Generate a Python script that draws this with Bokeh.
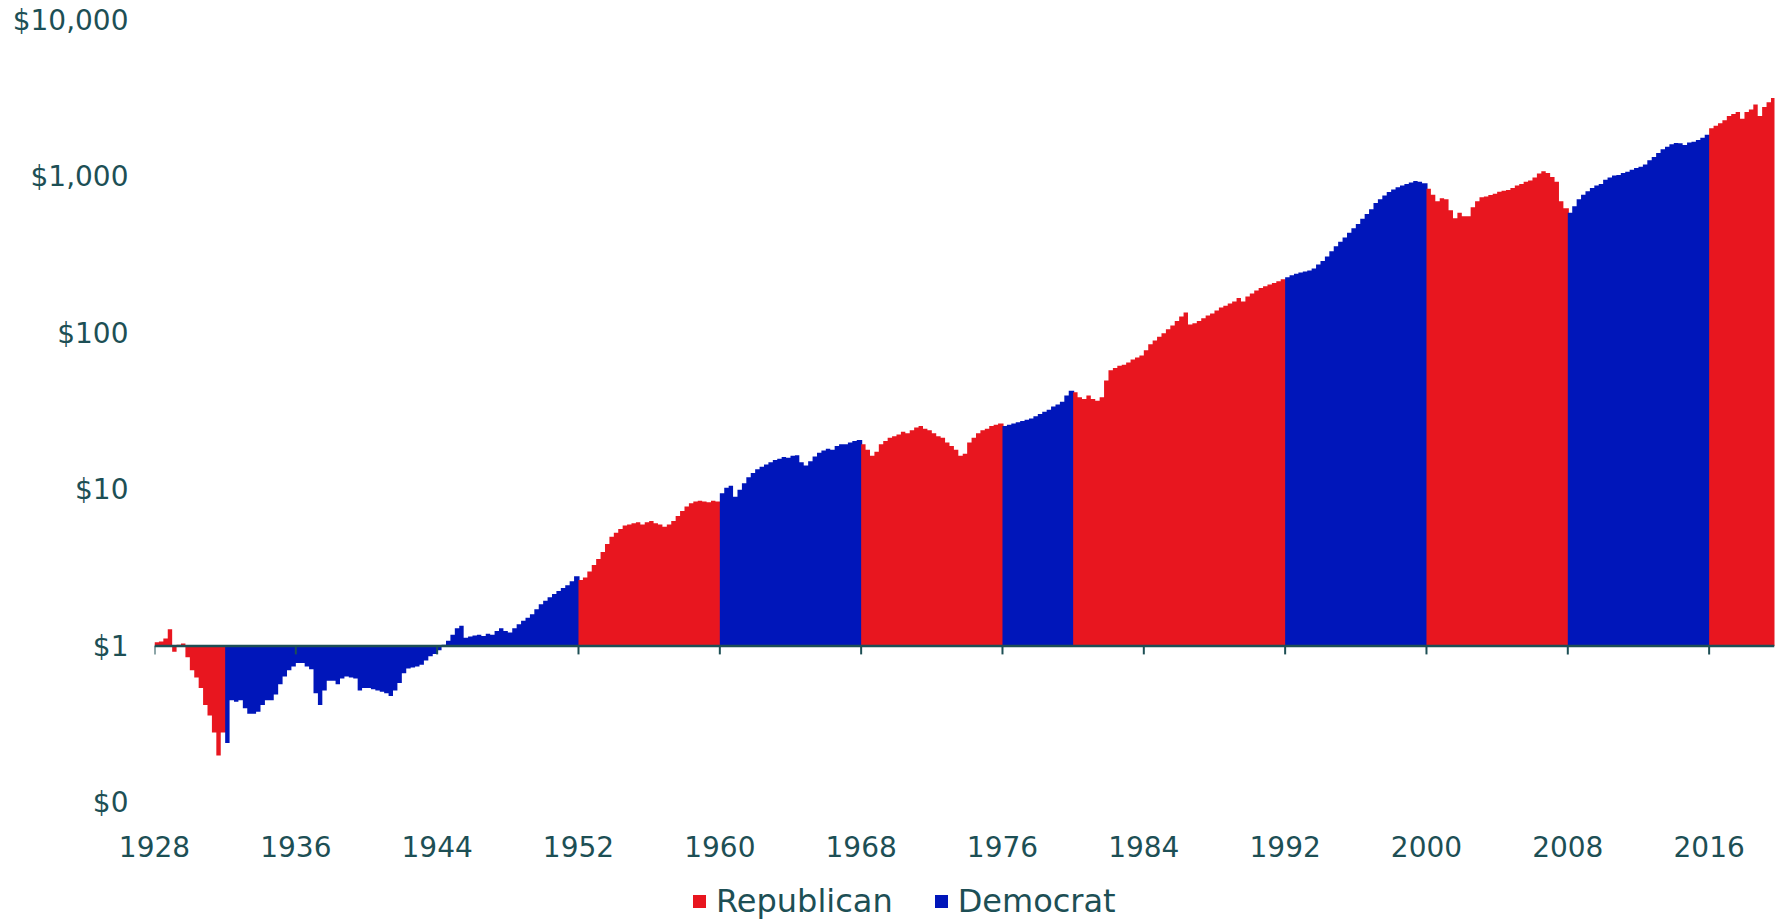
from bokeh.plotting import figure
from bokeh.layouts import column
from bokeh.models import Span, Legend, LegendItem, FixedTicker, Range1d
from bokeh.embed import file_html
from bokeh.resources import INLINE

# ---------------- data (growth of $1, quarterly) ----------------
TERM_STARTS = [1928, 1932, 1952, 1960, 1968, 1976, 1980, 1992, 2000, 2008, 2016]
TERM_PARTY = ["Republican", "Democrat", "Republican", "Democrat", "Republican", "Democrat",
              "Republican", "Democrat", "Republican", "Democrat", "Republican"]

term_1928 = [1.06, 1.07, 1.12, 1.28, 0.92, 1.02, 1.04, 0.85, 0.70, 0.63, 0.54, 0.42,
             0.36, 0.28, 0.20, 0.28]
term_1932 = [0.24, 0.45, 0.44, 0.45, 0.40, 0.37, 0.37, 0.38, 0.42, 0.45, 0.45, 0.49,
             0.57, 0.64, 0.70, 0.74, 0.78, 0.78, 0.74, 0.71, 0.50, 0.42, 0.52, 0.60,
             0.60, 0.57, 0.62, 0.64, 0.63, 0.62, 0.52, 0.54, 0.54, 0.53, 0.52, 0.51,
             0.50, 0.48, 0.52, 0.58, 0.67, 0.72, 0.73, 0.74, 0.76, 0.81, 0.86, 0.89,
             0.94, 1.02, 1.08, 1.18, 1.30, 1.35, 1.13, 1.15, 1.17, 1.18, 1.16, 1.20,
             1.18, 1.25, 1.30, 1.25, 1.22, 1.30, 1.38, 1.45, 1.52, 1.60, 1.72, 1.85,
             1.95, 2.05, 2.15, 2.25, 2.35, 2.45, 2.60, 2.80]
term_1952 = [2.65, 2.75, 3.0, 3.3, 3.6, 4.0, 4.5, 5.0, 5.3, 5.6, 5.9, 6.0,
             6.1, 6.2, 6.0, 6.2, 6.3, 6.1, 6.0, 5.8, 6.0, 6.3, 6.8, 7.3,
             7.8, 8.2, 8.4, 8.5, 8.4, 8.3, 8.5, 8.4]
term_1960 = [9.5, 10.3, 10.6, 9.0, 10.0, 11.0, 12.0, 12.8, 13.5, 14.0, 14.5, 15.0,
             15.5, 15.8, 16.2, 16.0, 16.5, 16.6, 15.0, 14.3, 15.2, 16.3, 17.2, 17.8,
             18.3, 18.0, 19.0, 19.5, 19.5, 20.0, 20.5, 20.8]
term_1968 = [19.5, 18.0, 16.5, 17.5, 19.5, 20.5, 21.5, 22.0, 22.5, 23.5, 23.0, 24.0,
             25.0, 25.5, 24.5, 24.0, 23.0, 22.0, 21.5, 20.0, 19.0, 18.0, 16.5, 17.0,
             20.0, 21.5, 23.0, 24.0, 24.5, 25.5, 26.0, 26.5]
term_1976 = [25.5, 26.0, 26.5, 27.0, 27.5, 28.0, 28.5, 29.5, 30.5, 31.5, 32.5, 34.0,
             35.0, 36.5, 40.0, 43.0]
term_1980 = [42, 39, 38, 40, 38, 37, 39, 50, 58, 60, 62, 63,
             65, 68, 70, 72, 78, 85, 90, 95, 100, 106, 112, 120,
             128, 136, 114, 116, 120, 125, 130, 134, 140, 146, 150, 155,
             160, 168, 160, 172, 180, 188, 195, 200, 205, 210, 215, 222]
term_1992 = [228, 235, 240, 245, 248, 252, 260, 275, 290, 310, 335, 360,
             385, 410, 440, 470, 500, 540, 580, 620, 680, 720, 760, 800,
             830, 860, 880, 900, 920, 940, 930, 910]
term_2000 = [840, 770, 700, 730, 720, 613, 545, 590, 560, 560, 640, 700,
             740, 750, 765, 780, 805, 815, 825, 850, 880, 900, 930, 950,
             990, 1050, 1085, 1060, 1000, 930, 700, 630]
term_2008 = [590, 650, 720, 770, 810, 850, 880, 900, 960, 990, 1020, 1030,
             1060, 1080, 1110, 1140, 1160, 1200, 1280, 1340, 1420, 1500, 1560, 1620,
             1650, 1640, 1600, 1660, 1680, 1720, 1780, 1860]
term_2016 = [2050, 2120, 2200, 2300, 2450, 2520, 2600, 2350, 2600, 2700, 2900, 2450,
             2800, 3000, 3200]
TERM_VALUES = [term_1928, term_1932, term_1952, term_1960, term_1968, term_1976,
               term_1980, term_1992, term_2000, term_2008, term_2016]

YEAR_TICKS = [1928, 1936, 1944, 1952, 1960, 1968, 1976, 1984, 1992, 2000, 2008, 2016]
Y_TICKS = [0.1, 1, 10, 100, 1000, 10000]
Y_LABELS = ["$0", "$1", "$10", "$100", "$1,000", "$10,000"]
PARTIES = ["Republican", "Democrat"]

STEP = 0.25  # quarterly observations

# ---------------- styling ----------------
COLORS = {"Republican": "#E8161F", "Democrat": "#0016BA"}
INK = "#1d4f55"
FONT = "DejaVu Sans"
FS = "28px"
OVERLAP = 0.06  # tiny overlap between adjacent terms to avoid hairline seams


def term_areas(fig):
    out = {party: [] for party in PARTIES}
    for start, party, vals in zip(TERM_STARTS, TERM_PARTY, TERM_VALUES):
        xs = [start + i * STEP for i in range(len(vals) + 1)]
        xs[-1] += OVERLAP
        ys = list(vals) + [vals[-1]]
        r = fig.varea_step(x=xs, y1=[1] * len(xs), y2=ys, step_mode="after",
                           fill_color=COLORS[party])
        out[party].append(r)
    return out


p = figure(width=1781, height=870, y_axis_type="log",
           x_range=Range1d(1928, 2019.7), y_range=Range1d(0.1, 10000),
           output_backend="svg", toolbar_location=None,
           min_border_left=154, min_border_right=7, min_border_top=20, min_border_bottom=68)
p.outline_line_color = None
p.grid.visible = False
term_areas(p)

# baseline at $1 with small ticks hanging from it
p.add_layout(Span(location=1, dimension="width", line_color=INK, line_width=2.5))
p.segment(x0=YEAR_TICKS, x1=YEAR_TICKS, y0=[1] * len(YEAR_TICKS),
          y1=[0.885] * len(YEAR_TICKS), line_color=INK, line_width=2)

# axes
p.xaxis.ticker = FixedTicker(ticks=YEAR_TICKS)
p.xaxis.minor_tick_line_color = None
p.xaxis.major_tick_line_color = None
p.xaxis.axis_line_color = None
p.xaxis.major_label_standoff = 27
p.xaxis.major_label_text_font = FONT
p.xaxis.major_label_text_font_size = FS
p.xaxis.major_label_text_color = INK

p.yaxis.ticker = FixedTicker(ticks=Y_TICKS)
p.yaxis.major_label_overrides = {t: l for t, l in zip(Y_TICKS, Y_LABELS)}
p.yaxis.minor_tick_line_color = None
p.yaxis.major_tick_line_color = None
p.yaxis.axis_line_color = None
p.yaxis.major_label_standoff = 20
p.yaxis.major_label_text_font = FONT
p.yaxis.major_label_text_font_size = FS
p.yaxis.major_label_text_color = INK

# ---------------- legend strip under the chart ----------------
# same series drawn again but outside this strip's ranges, only to feed the legend
pl = figure(width=1781, height=51, x_range=Range1d(0, 1), y_range=Range1d(0, 1),
            output_backend="svg", toolbar_location=None, min_border=0)
pl.axis.visible = False
pl.grid.visible = False
pl.outline_line_color = None
leg_r = term_areas(pl)
items = [LegendItem(label=party, renderers=leg_r[party]) for party in PARTIES]
legend = Legend(items=items, orientation="horizontal", location=(537, 1),
                label_text_font=FONT, label_text_font_size="32px", label_text_color=INK,
                glyph_width=16, glyph_height=16, label_standoff=9, spacing=40,
                padding=0, margin=0, border_line_color=None, background_fill_alpha=0)
pl.add_layout(legend, "center")

layout = column(p, pl, spacing=0)
open("out.html", "w").write(file_html(layout, INLINE))
